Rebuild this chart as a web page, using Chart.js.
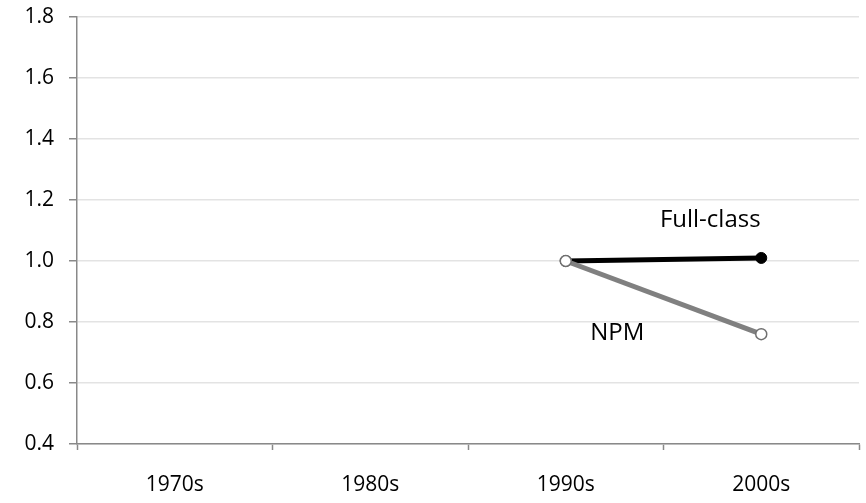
<!DOCTYPE html>
<html>
<head>
<meta charset="utf-8">
<script src="https://cdn.jsdelivr.net/npm/chart.js@4/dist/chart.umd.min.js"></script>
<style>
  html,body{margin:0;padding:0;background:#fff}
  #wrap{width:866px;height:503px}
</style>
</head>
<body>
<div id="wrap"><canvas id="chart"></canvas></div>
<script>
const decades=["1970s","1980s","1990s","2000s"];
const fullClass=[null,null,1.0,1.01];
const npm=[null,null,1.0,0.76];
const yTicks=[0.4,0.6,0.8,1.0,1.2,1.4,1.6,1.8];

const FONT="'Open Sans', sans-serif";
const axisGrey="#898989";

/* series names written beside the lines */
const seriesLabels={
  id:"seriesLabels",
  afterDatasetsDraw(c){
    const {ctx,scales:{x,y}}=c;
    const last=decades.length-1;
    ctx.save();
    ctx.font="24px "+FONT;
    ctx.fillStyle="#000";
    ctx.textAlign="center";
    ctx.textBaseline="middle";
    ctx.fillText("Full-class",x.getPixelForValue(last)-51,y.getPixelForValue(fullClass[last])-38);
    ctx.fillText("NPM",x.getPixelForValue(last)-144,y.getPixelForValue(npm[last])-1);
    ctx.restore();
  }
};

new Chart(document.getElementById("chart"),{
  type:"line",
  data:{
    labels:decades,
    datasets:[
      {
        label:"NPM",
        data:npm,
        borderColor:"#808080",
        borderWidth:5,
        pointRadius:5.5,
        pointBackgroundColor:"#fff",
        pointBorderColor:"#707070",
        pointBorderWidth:1.5,
        order:1
      },
      {
        label:"Full-class",
        data:fullClass,
        borderColor:"#000",
        borderWidth:5,
        pointRadius:5.5,
        pointBackgroundColor:"#000",
        pointBorderColor:"#000",
        pointBorderWidth:1,
        order:2
      }
    ]
  },
  options:{
    responsive:true,
    maintainAspectRatio:false,
    animation:false,
    layout:{padding:{top:17,right:6,left:0,bottom:0}},
    plugins:{legend:{display:false},tooltip:{enabled:false}},
    scales:{
      x:{
        offset:true,
        grid:{offset:true,drawOnChartArea:false,tickLength:6,tickColor:axisGrey,tickWidth:1.5},
        border:{color:axisGrey,width:1.5},
        ticks:{color:"#000",font:{family:FONT,size:21},padding:22,maxRotation:0},
        afterFit(s){s.height=59;s.paddingLeft=0;s.paddingRight=0;}
      },
      y:{
        min:0.4,max:1.8,
        afterBuildTicks(s){s.ticks=yTicks.map(v=>({value:v}));},
        grid:{color:"#e3e3e3",lineWidth:1.5,tickLength:8,tickColor:axisGrey,tickWidth:1.5},
        border:{color:axisGrey,width:1.5},
        ticks:{color:"#000",font:{family:FONT,size:21},padding:15,callback:v=>v.toFixed(1)},
        afterFit(s){s.width=77;s.paddingTop=0;s.paddingBottom=0;}
      }
    }
  },
  plugins:[seriesLabels]
});
</script>
</body>
</html>
